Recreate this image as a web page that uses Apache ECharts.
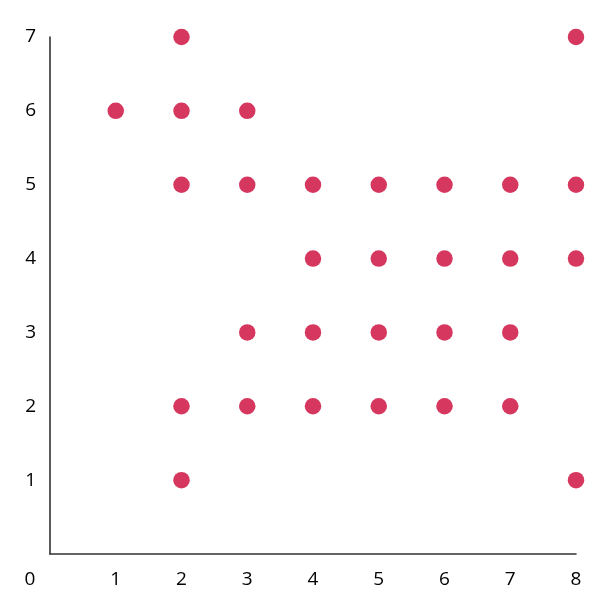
<!DOCTYPE html>
<html><head><meta charset="utf-8">
<script src="https://cdn.jsdelivr.net/npm/echarts@6/dist/echarts.min.js"></script>
<style>html,body{margin:0;padding:0;background:#fff}#c{width:608px;height:612px}</style>
</head><body><div id="c"></div>
<script>
const xValues = [1, 2, 2, 2, 2, 2, 3, 3, 3, 3, 4, 4, 4, 4, 5, 5, 5, 5, 6, 6, 6, 6, 7, 7, 7, 7, 8, 8, 8, 8];
const yValues = [6, 7, 6, 5, 2, 1, 6, 5, 3, 2, 5, 4, 3, 2, 5, 4, 3, 2, 5, 4, 3, 2, 5, 4, 3, 2, 7, 5, 4, 1];
const xTicks = [0, 1, 2, 3, 4, 5, 6, 7, 8];
const yTicks = [0, 1, 2, 3, 4, 5, 6, 7];

const points = xValues.map((x, i) => [x, yValues[i]]);
const chart = echarts.init(document.getElementById('c'));
const font = 'Open Sans';
chart.setOption({
  animation: false,
  grid: { left: 50, right: 32, top: 37, bottom: 58 },
  xAxis: {
    type: 'value', min: xTicks[0], max: xTicks[xTicks.length - 1], interval: 1,
    axisLine: { show: true, lineStyle: { color: '#333', width: 1.6 } },
    axisTick: { show: false }, splitLine: { show: false },
    axisLabel: {
      margin: 16, fontSize: 19, color: '#000', fontFamily: font,
      formatter: v => v === 0 ? '{z|0}' : String(v),
      rich: { z: { fontSize: 19, color: '#000', fontFamily: font, padding: [0, 40, 0, 0] } }
    }
  },
  yAxis: {
    type: 'value', min: yTicks[0], max: yTicks[yTicks.length - 1], interval: 1,
    axisLine: { show: true, onZero: false, lineStyle: { color: '#333', width: 1.6 } },
    axisTick: { show: false }, splitLine: { show: false },
    axisLabel: { margin: 14, fontSize: 19, color: '#000', fontFamily: font, showMinLabel: false }
  },
  series: [{
    type: 'scatter', data: points, symbolSize: 16.5,
    itemStyle: { color: '#d6375f', opacity: 1 }
  }]
});
</script></body></html>
